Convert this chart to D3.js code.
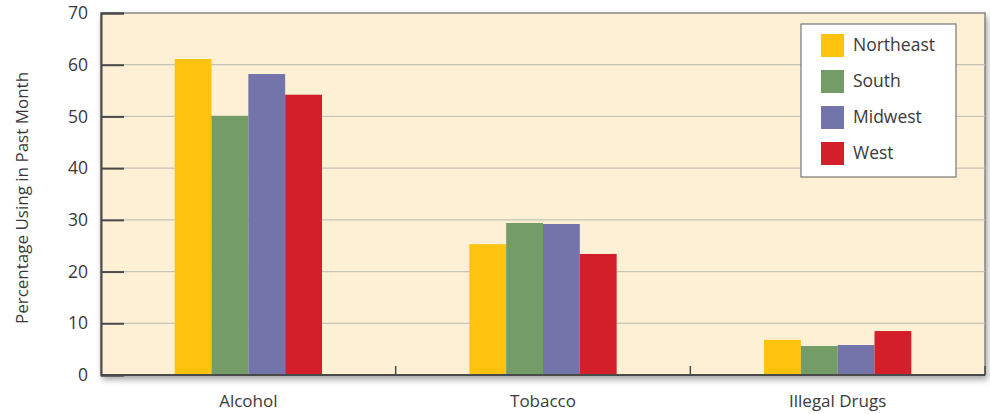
<!DOCTYPE html>
<meta charset="utf-8">
<head>
<script src="https://d3js.org/d3.v7.min.js"></script>
<style>
  body { margin: 0; background: #ffffff; }
  text { font-family: "Open Sans", "Noto Sans", sans-serif; fill: #3a3a3a; }
</style>
</head>
<body>
<svg id="chart" width="990" height="414"></svg>
<script>
// data
const categories = ["Alcohol", "Tobacco", "Illegal Drugs"];
const regions = ["Northeast", "South", "Midwest", "West"];
const northeast = [61.1, 25.3, 6.8];
const south = [50.1, 29.4, 5.6];
const midwest = [58.2, 29.2, 5.8];
const west = [54.2, 23.4, 8.5];
const yTicks = [0, 10, 20, 30, 40, 50, 60, 70];

const series = [northeast, south, midwest, west];
const colors = ["#fec20f", "#749c66", "#7374a9", "#d21f2a"];
const FONT = "'Open Sans', 'Noto Sans', sans-serif";

var svg = d3.select("#chart"),
    width = +svg.attr("width"),
    height = +svg.attr("height");

var margin = {top: 13, right: 5, bottom: 39, left: 101};
var plotW = width - margin.left - margin.right,
    plotH = height - margin.top - margin.bottom;

// shadow for the plot box
var defs = svg.append("defs");
var f = defs.append("filter").attr("id", "shadow")
    .attr("x", "-5%").attr("y", "-5%").attr("width", "110%").attr("height", "115%");
f.append("feDropShadow").attr("dx", 2).attr("dy", 4).attr("stdDeviation", 3)
    .attr("flood-color", "#000").attr("flood-opacity", 0.35);

var x = d3.scaleBand().domain(categories).range([0, plotW])
    .paddingInner(0.5).paddingOuter(0.25);
var step = x.step();
var xSub = d3.scaleBand().domain(regions).range([0, x.bandwidth()]);
var y = d3.scaleLinear().domain([0, 70]).range([plotH, 0]);

var g = svg.append("g").attr("transform", `translate(${margin.left},${margin.top})`);

// plot background
g.append("rect")
    .attr("width", plotW).attr("height", plotH)
    .attr("fill", "#fdf0d4")
    .attr("stroke", "#6a6a6a").attr("stroke-width", 1.2)
    .attr("filter", "url(#shadow)");

// gridlines
g.append("g").selectAll("line")
    .data(yTicks.filter(d => d > 0 && d < 70))
    .enter().append("line")
    .attr("x1", 0).attr("x2", plotW)
    .attr("y1", d => y(d)).attr("y2", d => y(d))
    .attr("stroke", "#c9c3b6").attr("stroke-width", 1.2);

// bars
var groups = g.append("g").selectAll("g")
    .data(categories)
    .enter().append("g")
    .attr("transform", d => `translate(${x(d)},0)`);

groups.selectAll("rect")
    .data((d, i) => regions.map((r, j) => ({region: r, value: series[j][i], j: j})))
    .enter().append("rect")
    .attr("x", d => xSub(d.region))
    .attr("width", xSub.bandwidth())
    .attr("y", d => y(d.value))
    .attr("height", d => plotH - y(d.value))
    .attr("fill", d => colors[d.j]);

// y axis
var yAxis = d3.axisLeft(y).tickValues(yTicks).tickSize(-23).tickPadding(13);
var ya = g.append("g").call(yAxis)
    .attr("font-family", FONT).attr("font-size", 17.5);
ya.select(".domain").attr("stroke", "#4a4a4a").attr("stroke-width", 2);
ya.selectAll(".tick line").attr("stroke", "#4a4a4a").attr("stroke-width", 2);
ya.selectAll(".tick text").attr("fill", "#3a3a3a");

// x axis: dividers between the categories
var dividers = d3.range(categories.length + 1).map(i => i * step);
g.append("line")
    .attr("x1", 0).attr("x2", plotW)
    .attr("y1", plotH).attr("y2", plotH)
    .attr("stroke", "#4a4a4a").attr("stroke-width", 2);
g.append("g").selectAll("line")
    .data(dividers.slice(1))
    .enter().append("line")
    .attr("x1", d => d).attr("x2", d => d)
    .attr("y1", plotH).attr("y2", plotH - 9)
    .attr("stroke", "#4a4a4a").attr("stroke-width", 1.5);

g.append("g").selectAll("text")
    .data(categories)
    .enter().append("text")
    .attr("x", d => x(d) + x.bandwidth() / 2)
    .attr("y", plotH + 32)
    .attr("text-anchor", "middle")
    .attr("font-size", 17)
    .text(d => d);

// y label
svg.append("text")
    .attr("transform", `translate(28,${margin.top + plotH / 2 + 4}) rotate(-90)`)
    .attr("text-anchor", "middle")
    .attr("font-size", 17)
    .text("Percentage Using in Past Month");

// legend
var lg = svg.append("g").attr("transform", "translate(801,24)");
lg.append("rect")
    .attr("width", 155).attr("height", 153)
    .attr("fill", "#ffffff").attr("stroke", "#777").attr("stroke-width", 1.2);
var items = lg.selectAll("g.item")
    .data(regions)
    .enter().append("g").attr("class", "item")
    .attr("transform", (d, i) => `translate(20,${21 + i * 36})`);
items.append("rect")
    .attr("x", 0).attr("y", -11)
    .attr("width", 23).attr("height", 23)
    .attr("fill", (d, i) => colors[i]);
items.append("text")
    .attr("x", 32).attr("y", 6)
    .attr("font-size", 17.5)
    .text(d => d);
</script>
</body>
</html>
